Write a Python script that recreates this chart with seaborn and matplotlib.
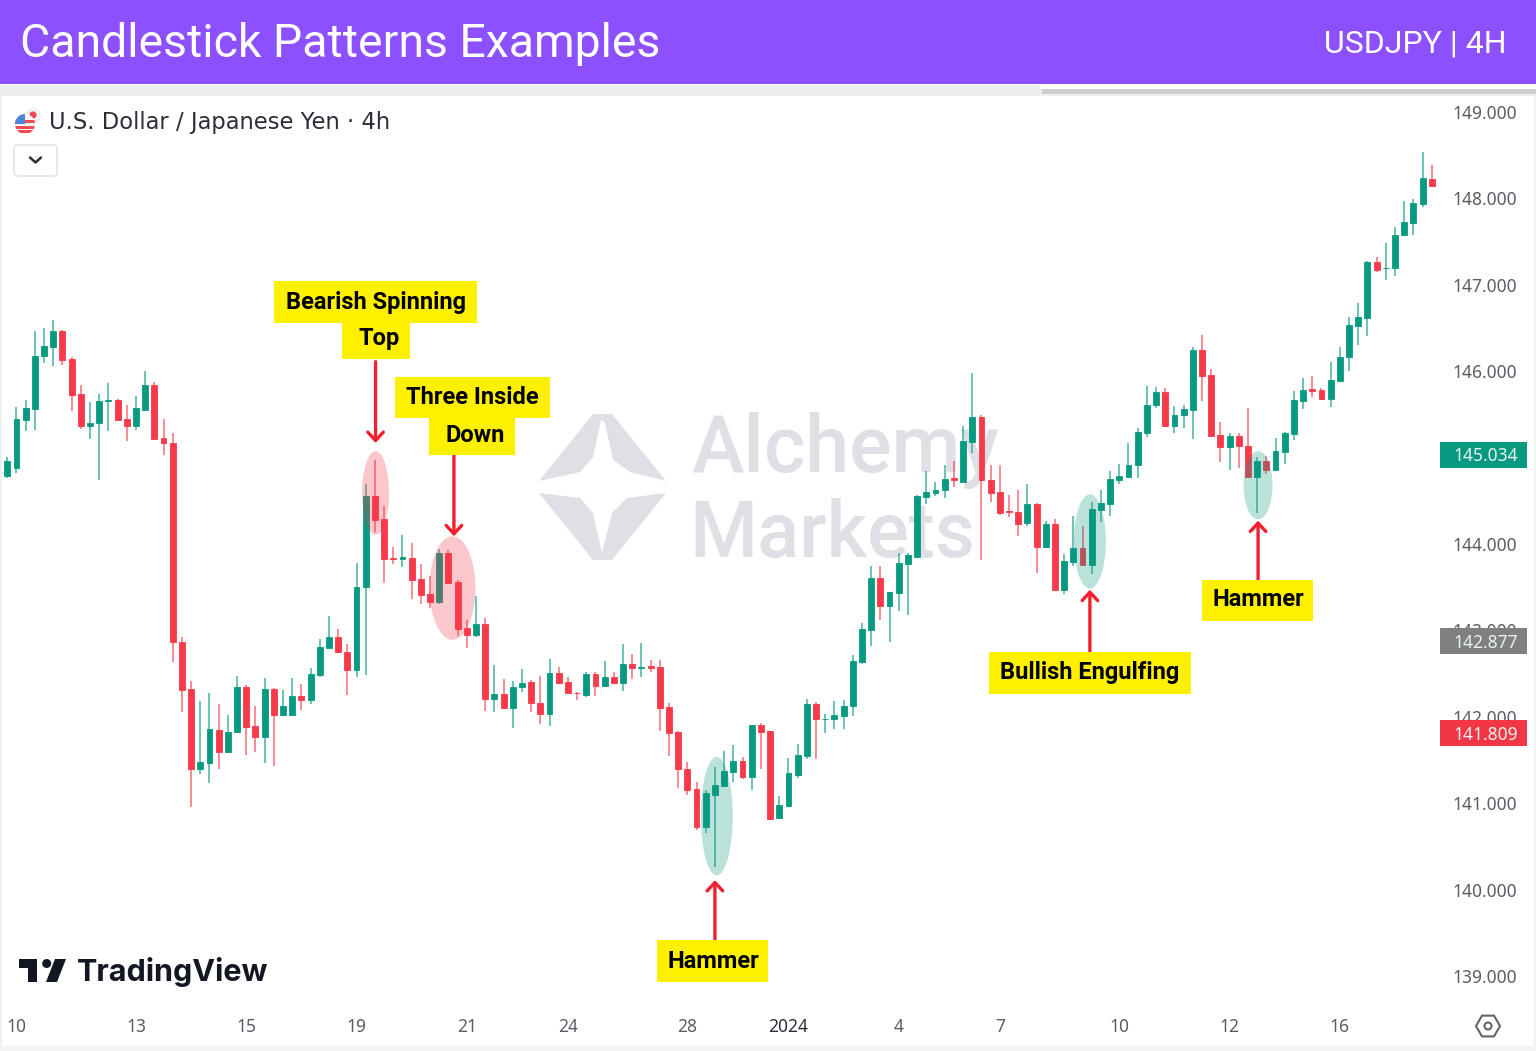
import numpy as np
import pandas as pd
import seaborn as sns
import matplotlib
matplotlib.use("Agg")
import matplotlib.pyplot as plt
from matplotlib.patches import Rectangle, Ellipse, Polygon, Circle, FancyBboxPatch, RegularPolygon

opens = [144.79, 144.88, 145.44, 145.56, 146.18, 146.28, 146.47, 146.14, 145.74, 145.37,
         145.40, 145.65, 145.67, 145.45, 145.37, 145.55, 145.84, 145.23, 145.17, 142.87,
         142.32, 141.40, 141.47, 141.85, 141.59, 141.82, 142.35, 141.89, 141.77, 142.32,
         142.02, 142.02, 142.24, 142.20, 142.48, 142.80, 142.92, 142.75, 142.54, 143.50,
         144.55, 144.29, 143.84, 143.83, 143.84, 143.59, 143.42, 143.33, 143.90, 143.56,
         143.03, 142.95, 143.07, 142.21, 142.26, 142.10, 142.35, 142.40, 142.16, 142.03,
         142.51, 142.40, 142.28, 142.25, 142.50, 142.36, 142.46, 142.39, 142.61, 142.56,
         142.59, 142.58, 142.11, 141.82, 141.40, 141.16, 140.73, 141.10, 141.20, 141.36,
         141.49, 141.30, 141.90, 141.83, 140.83, 140.97, 141.33, 141.55, 142.15, 141.97,
         141.97, 142.01, 142.12, 142.63, 143.01, 143.61, 143.28, 143.43, 143.77, 143.85,
         144.54, 144.59, 144.63, 144.76, 144.72, 145.18, 145.47, 144.74, 144.60, 144.38,
         144.37, 144.24, 144.46, 143.96, 144.23, 143.47, 143.79, 143.95, 143.76, 144.39,
         144.46, 144.74, 144.78, 144.91, 145.28, 145.61, 145.76, 145.36, 145.49, 145.55,
         146.25, 145.96, 145.26, 145.12, 145.25, 145.13, 144.78, 144.96, 144.86, 145.07,
         145.27, 145.66, 145.79, 145.78, 145.68, 145.89, 146.16, 146.52, 146.62, 147.26,
         147.19, 147.19, 147.58, 147.72, 147.94, 148.23]
closes = [144.96, 145.45, 145.57, 146.18, 146.29, 146.47, 146.13, 145.73, 145.36, 145.40,
          145.65, 145.67, 145.44, 145.37, 145.57, 145.84, 145.22, 145.17, 142.86, 142.31,
          141.40, 141.48, 141.86, 141.59, 141.82, 142.35, 141.88, 141.77, 142.32, 142.02,
          142.13, 142.24, 142.20, 142.49, 142.81, 142.92, 142.75, 142.54, 143.50, 144.55,
          144.28, 143.83, 143.83, 143.85, 143.58, 143.41, 143.33, 143.90, 143.55, 143.02,
          142.95, 143.07, 142.21, 142.26, 142.10, 142.35, 142.39, 142.16, 142.03, 142.51,
          142.39, 142.27, 142.27, 142.50, 142.36, 142.46, 142.39, 142.61, 142.56, 142.58,
          142.57, 142.10, 141.81, 141.39, 141.15, 140.73, 141.12, 141.21, 141.37, 141.49,
          141.30, 141.90, 141.82, 140.82, 140.98, 141.35, 141.56, 142.15, 141.97, 141.98,
          142.02, 142.13, 142.64, 143.02, 143.61, 143.28, 143.44, 143.78, 143.87, 144.55,
          144.60, 144.63, 144.75, 144.74, 145.19, 145.47, 144.74, 144.59, 144.36, 144.37,
          144.23, 144.46, 143.96, 144.23, 143.47, 143.80, 143.95, 143.76, 144.40, 144.47,
          144.75, 144.79, 144.91, 145.30, 145.61, 145.76, 145.36, 145.49, 145.56, 146.25,
          145.95, 145.25, 145.12, 145.25, 145.13, 144.78, 144.96, 144.86, 145.08, 145.28,
          145.67, 145.78, 145.77, 145.68, 145.90, 146.17, 146.54, 146.63, 147.26, 147.17,
          147.20, 147.58, 147.73, 147.95, 148.24, 148.14]
highs = [145.01, 145.58, 145.67, 146.46, 146.50, 146.59, 146.48, 146.16, 145.84, 145.64,
         145.74, 145.86, 145.68, 145.61, 145.71, 146.00, 145.88, 145.45, 145.28, 142.92,
         142.41, 142.18, 142.28, 142.15, 142.02, 142.47, 142.37, 142.13, 142.45, 142.33,
         142.31, 142.45, 142.38, 142.56, 142.90, 143.17, 143.02, 142.84, 143.78, 144.70,
         144.97, 144.44, 143.97, 144.10, 144.01, 143.77, 143.63, 143.94, 143.93, 143.58,
         143.12, 143.40, 143.14, 142.60, 142.44, 142.41, 142.55, 142.43, 142.47, 142.67,
         142.58, 142.46, 142.29, 142.52, 142.52, 142.65, 142.52, 142.84, 142.73, 142.85,
         142.66, 142.66, 142.16, 141.83, 141.48, 141.24, 141.15, 141.42, 141.60, 141.67,
         141.53, 141.91, 141.93, 141.84, 141.08, 141.52, 141.68, 142.21, 142.17, 142.03,
         142.18, 142.19, 142.72, 143.09, 143.75, 143.75, 143.45, 143.90, 143.90, 144.57,
         144.85, 144.72, 144.91, 144.96, 145.37, 145.98, 145.49, 144.91, 144.92, 144.57,
         144.62, 144.69, 144.47, 144.27, 144.29, 143.88, 144.32, 144.21, 144.49, 144.63,
         144.84, 144.93, 145.17, 145.34, 145.83, 145.82, 145.81, 145.60, 145.61, 146.28,
         146.42, 146.03, 145.41, 145.28, 145.29, 145.57, 145.01, 145.02, 145.23, 145.30,
         145.77, 145.92, 145.94, 145.81, 146.11, 146.28, 146.63, 146.79, 147.28, 147.32,
         147.48, 147.67, 147.97, 147.99, 148.54, 148.39]
lows = [144.76, 144.82, 145.31, 145.32, 146.09, 146.06, 146.07, 145.54, 145.33, 145.22,
        144.74, 145.31, 145.43, 145.19, 145.32, 145.55, 145.21, 145.03, 142.63, 142.05,
        140.96, 141.34, 141.23, 141.40, 141.58, 141.82, 141.56, 141.59, 141.47, 141.43,
        142.01, 142.02, 142.08, 142.15, 142.46, 142.80, 142.74, 142.25, 142.46, 142.48,
        144.14, 143.55, 143.77, 143.73, 143.36, 143.31, 143.26, 143.31, 143.54, 142.93,
        142.80, 142.92, 142.07, 142.05, 142.09, 141.87, 142.29, 142.05, 141.92, 141.89,
        142.38, 142.26, 142.20, 142.23, 142.24, 142.35, 142.38, 142.30, 142.44, 142.46,
        142.52, 141.84, 141.55, 141.17, 141.10, 140.69, 140.65, 140.26, 141.20, 141.25,
        141.28, 141.15, 141.39, 140.80, 140.82, 140.97, 141.29, 141.51, 141.51, 141.81,
        141.86, 141.86, 142.01, 142.61, 142.82, 143.12, 142.86, 143.22, 143.18, 143.85,
        144.46, 144.55, 144.53, 144.66, 144.72, 145.05, 143.81, 144.49, 144.34, 144.31,
        144.09, 144.21, 143.67, 143.95, 143.46, 143.42, 143.74, 143.75, 143.65, 144.26,
        144.32, 144.69, 144.76, 144.76, 145.24, 145.57, 145.35, 145.28, 145.34, 145.21,
        145.66, 145.24, 144.95, 144.86, 144.88, 144.77, 144.36, 144.81, 144.86, 144.93,
        145.20, 145.56, 145.70, 145.67, 145.58, 145.88, 146.00, 146.30, 146.41, 147.15,
        147.06, 147.10, 147.57, 147.58, 147.90, 148.13]

# 145.000 sits fully behind the green tag in the reference, so it has no label here
price_ticks = [149, 148, 147, 146, 144, 143, 142, 141, 140, 139]
date_ticks = [1, 14, 26, 38, 50, 61, 74, 85, 97, 108, 121, 133, 145]
date_labels = ["10", "13", "15", "19", "21", "24", "28", "2024", "4", "7", "10", "12", "16"]
tag_prices = [145.034, 142.877, 141.809]

GREEN = "#089981"
RED = "#F7394A"
PURPLE = "#8C50FF"
YELLOW = "#FFF000"
ARROW = "#F2202E"
AXIS_TEXT = "#5A5D66"

sns.set_theme(style="white")
plt.rcParams["font.family"] = ["Noto Sans", "DejaVu Sans"]

df = pd.DataFrame({"idx": np.arange(len(opens)), "open": opens, "close": closes,
                   "high": highs, "low": lows})
df["bottom"] = df[["open", "close"]].min(axis=1)
df["body"] = (df["close"] - df["open"]).abs()
up = df[df["close"] >= df["open"]]
down = df[df["close"] < df["open"]]

fig = plt.figure(figsize=(15.36, 10.51), dpi=100, facecolor="white")

# pixel-space layers: one under the candles, one on top
back = fig.add_axes([0, 0, 1, 1], zorder=0)
over = fig.add_axes([0, 0, 1, 1], zorder=2)
for a in (back, over):
    a.set_xlim(0, 1536)
    a.set_ylim(1051, 0)
    a.axis("off")
    a.patch.set_alpha(0)

# chart area 0..1445 px wide, 95..1012 px tall
ax = fig.add_axes([0, 1 - 1012 / 1051, 1445 / 1536, 917 / 1051], zorder=1)
ax.patch.set_alpha(0)

ax.vlines(up["idx"], up["low"], up["high"], color=GREEN, lw=1.1, alpha=0.75, zorder=2)
ax.vlines(down["idx"], down["low"], down["high"], color=RED, lw=1.1, alpha=0.75, zorder=2)
sns.barplot(data=up, x="idx", y="body", bottom=up["bottom"].values, native_scale=True, ax=ax,
            color=GREEN, saturation=1, width=0.64, errorbar=None, edgecolor=GREEN, linewidth=0.6, zorder=3)
sns.barplot(data=down, x="idx", y="body", bottom=down["bottom"].values, native_scale=True, ax=ax,
            color=RED, saturation=1, width=0.64, errorbar=None, edgecolor=RED, linewidth=0.6, zorder=3)

ax.set_xlim(-0.794, 156.44)
ax.set_ylim(138.583, 149.197)
ax.set_xlabel("")
ax.set_ylabel("")
sns.despine(ax=ax, left=True, bottom=True, right=True, top=True)
ax.yaxis.tick_right()
ax.set_yticks(price_ticks)
ax.set_yticklabels([f"{p:.3f}" for p in price_ticks], color=AXIS_TEXT, fontsize=12.5)
ax.set_xticks(date_ticks)
ax.set_xticklabels(date_labels, color=AXIS_TEXT, fontsize=12.5)
ax.tick_params(axis="y", length=0, pad=5.5)
ax.tick_params(axis="x", length=0, pad=4)
ax.get_xticklabels()[7].set_fontweight("bold")
ax.get_xticklabels()[7].set_color("#2A2E39")

# pattern highlights
for cx, cy, w, h, col in [(40.07, 144.59, 2.94, 0.97, RED), (48.44, 143.49, 5.0, 1.20, RED),
                          (77.2, 140.85, 3.48, 1.37, GREEN), (117.8, 144.03, 3.48, 1.09, GREEN),
                          (136.1, 144.68, 3.16, 0.79, GREEN)]:
    ax.add_patch(Ellipse((cx, cy), w, h, facecolor=col, edgecolor="none", alpha=0.28, zorder=4))

# arrows
for x, y0, y1 in [(40.07, 146.11, 145.17), (48.6, 145.03, 144.09), (77.0, 139.42, 140.11),
                  (117.8, 142.75, 143.47), (136.1, 143.57, 144.27)]:
    ax.annotate("", xy=(x, y1), xytext=(x, y0),
                arrowprops=dict(arrowstyle="->,head_length=0.3,head_width=0.28", color=ARROW,
                                lw=2.4, mutation_scale=20, shrinkA=0, shrinkB=0), zorder=5)

# last price tags on the scale
for price, col in zip(tag_prices, [GREEN, "#808080", "#F23645"]):
    ax.add_patch(Rectangle((155.9, price - 0.15), 9.47, 0.30, facecolor=col, edgecolor="none",
                           clip_on=False, zorder=6))
    ax.text(164.4, price - 0.02, f"{price:.3f}", ha="right", va="center", color="#E8F3F1",
            fontsize=12.5, clip_on=False, zorder=7)

# watermark
WM = "#DFDFE6"
back.add_patch(Polygon([(539, 481), (593, 414), (612, 414), (666, 481), (630, 472), (613, 460),
                        (605, 423), (601, 420), (593, 457), (580, 472)], facecolor=WM, edgecolor="none"))
back.add_patch(Polygon([(539, 493), (580, 498), (593, 513), (602, 553), (612, 513), (627, 498),
                        (666, 493), (612, 560), (593, 560)], facecolor=WM, edgecolor="none"))
back.text(691, 472, "Alchemy", color=WM, fontsize=57, fontweight="medium", family="Roboto",
          va="baseline", ha="left")
back.text(689, 557, "Markets", color=WM, fontsize=56, fontweight="medium", family="Roboto",
          va="baseline", ha="left")

# header banner
over.add_patch(Rectangle((0, 85), 1536, 11, facecolor="#ECEDEF", edgecolor="none"))
over.add_patch(Rectangle((1040, 85), 496, 4, facecolor="white", edgecolor="none"))
over.add_patch(Rectangle((1042, 89), 494, 5, facecolor="#CFCFD2", edgecolor="none"))
over.add_patch(Rectangle((1042, 94), 494, 2, facecolor="#F0F0F1", edgecolor="none"))
over.add_patch(Rectangle((0, 0), 1536, 84, facecolor=PURPLE, edgecolor="none"))
over.text(20, 44, "Candlestick Patterns Examples", color="white", fontsize=33.4, family="Roboto",
          va="center", ha="left")
over.text(1507, 44, "USDJPY | 4H", color="white", fontsize=23, family="Roboto", va="center", ha="right")
over.add_patch(Rectangle((0, 1046), 1536, 5, facecolor="#F4F4F6", edgecolor="none"))
over.add_patch(Rectangle((0, 95), 2, 951, facecolor="#F0F0F2", edgecolor="none"))
over.add_patch(Rectangle((1534, 95), 2, 956, facecolor="#F4F4F6", edgecolor="none"))

# symbol line
over.add_patch(Circle((33, 116), 8, facecolor="#F0F0F0", edgecolor="none"))
over.add_patch(Circle((33, 115), 3.5, facecolor="#F0445A", edgecolor="none"))
flag = Circle((25, 124), 10, facecolor="#F7F7F7", edgecolor="none")
over.add_patch(flag)
for y_stripe in (120, 126, 130):
    stripe = Rectangle((15, y_stripe), 20, 3, facecolor="#EE4C55", edgecolor="none")
    over.add_patch(stripe)
    stripe.set_clip_path(flag)
canton = Rectangle((15, 114), 10, 10, facecolor="#4D86D8", edgecolor="none")
over.add_patch(canton)
canton.set_clip_path(flag)
over.text(49, 123, "U.S. Dollar / Japanese Yen · 4h", color="#2A2E39", fontsize=16.3,
          family="DejaVu Sans", va="center", ha="left")
over.add_patch(FancyBboxPatch((15, 146), 41, 29, boxstyle="round,pad=1,rounding_size=4",
                              facecolor="white", edgecolor="#E3E4E8", lw=1.2))
over.plot([30, 35.5, 41], [157.5, 162.5, 157.5], color="#2A2E39", lw=1.8)

# yellow labels
for x0, x1, y0, y1 in [(274, 477, 281, 323), (342, 410, 323, 359), (395, 550, 377, 418),
                       (429, 515, 418, 455), (657, 768, 940, 982), (989, 1191, 652, 694),
                       (1202, 1313, 580, 621)]:
    over.add_patch(Rectangle((x0, y0), x1 - x0, y1 - y0, facecolor=YELLOW, edgecolor="none"))
for tx, ty, s in [(375.5, 302, "Bearish Spinning"), (379, 339, "Top"), (472.5, 398, "Three Inside"),
                  (475, 435, "Down"), (713, 961, "Hammer"), (1090, 673, "Bullish Engulfing"),
                  (1258, 600, "Hammer")]:
    over.text(tx, ty, s, color="black", fontsize=17, fontweight="bold", family="Roboto",
              ha="center", va="center")

# TradingView logo
LOGO = "#131722"
over.add_patch(Polygon([(19, 959), (37, 959), (37, 982), (28, 982), (28, 968), (19, 968)],
                       facecolor=LOGO, edgecolor="none"))
over.add_patch(Circle((46.7, 963.5), 4.5, facecolor=LOGO, edgecolor="none"))
over.add_patch(Polygon([(55, 959), (66, 959), (57, 982), (46, 982)], facecolor=LOGO, edgecolor="none"))
over.text(77, 972, "TradingView", color=LOGO, fontsize=22, fontweight="bold", family="Inter",
          va="center", ha="left")

# settings icon
over.add_patch(RegularPolygon((1488, 1026), 6, radius=12, orientation=np.pi / 2, facecolor="white",
                              edgecolor="#606369", lw=1.5))
over.add_patch(Circle((1488, 1026), 3.5, facecolor="white", edgecolor="#606369", lw=1.5))

fig.savefig("out.png", dpi=100)
